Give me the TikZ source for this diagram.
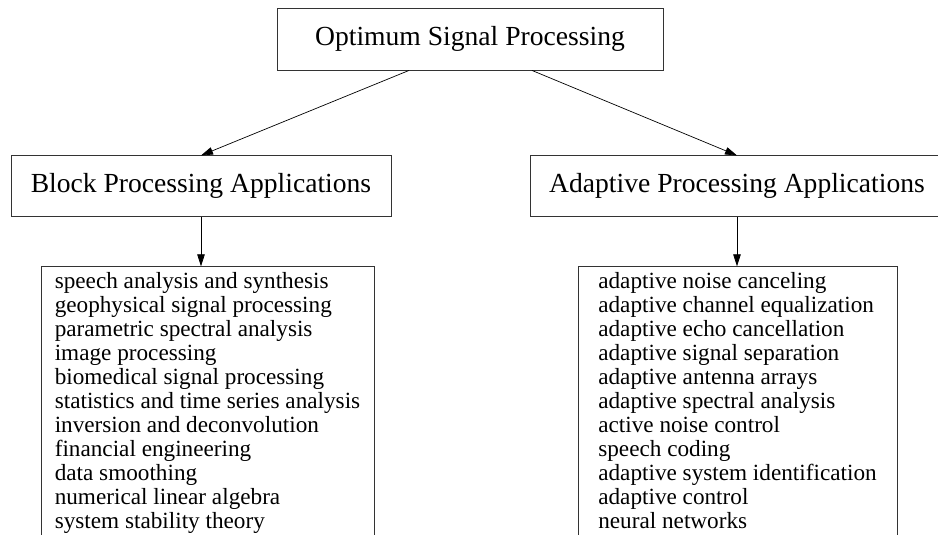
\documentclass[tikz,border=0pt]{standalone}
\usepackage{fontspec}
\setmainfont{Liberation Serif}
\usetikzlibrary{positioning}
\usetikzlibrary{arrows.meta}

\begin{document}
\begin{tikzpicture}[x=1pt, y=1pt,
  head/.style={rectangle, draw=black!80, line width=0.9pt, font=\fontsize{27.6}{30}\selectfont, minimum height=62pt, inner sep=0pt},
  list/.style={rectangle, draw=black!80, line width=0.9pt, font=\fontsize{23.2}{24}\selectfont, align=left, inner xsep=0pt, inner ysep=6pt},
  link/.style={line width=0.7pt, -{Triangle[length=12pt,width=7.5pt]}},
]
  \useasboundingbox (0,0) rectangle (938,535);
  \clip (0,0) rectangle (938,535);

  \node[head, minimum width=386pt] (osp) at (470,496) {Optimum Signal Processing};

  \node[head, minimum width=380pt, minimum height=61pt] (block) [below=85pt of osp, xshift=-269pt] {Block Processing Applications};
  \node[head, minimum width=414pt, minimum height=61pt] (adapt) [below=85pt of osp, xshift=267pt] {Adaptive Processing Applications};

  \node[list, minimum width=333pt] (blocklist) [below=49pt of block, xshift=6.5pt] {
    speech analysis and synthesis\\
    geophysical signal processing\\
    parametric spectral analysis\\
    image processing\\
    biomedical signal processing\\
    statistics and time series analysis\\
    inversion and deconvolution\\
    financial engineering\\
    data smoothing\\
    numerical linear algebra\\
    system stability theory
  };

  \node[list, minimum width=319pt] (adaptlist) [below=49pt of adapt, xshift=0.5pt] {
    adaptive noise canceling\\
    adaptive channel equalization\\
    adaptive echo cancellation\\
    adaptive signal separation\\
    adaptive antenna arrays\\
    adaptive spectral analysis\\
    active noise control\\
    speech coding\\
    adaptive system identification\\
    adaptive control\\
    neural networks
  };

  \draw[link] ([xshift=-61pt]osp.south) -- (block.north);
  \draw[link] ([xshift=62pt]osp.south) -- (adapt.north);
  \draw[link] (block.south) -- (block.south |- blocklist.north);
  \draw[link] (adapt.south) -- (adapt.south |- adaptlist.north);
\end{tikzpicture}
\end{document}
